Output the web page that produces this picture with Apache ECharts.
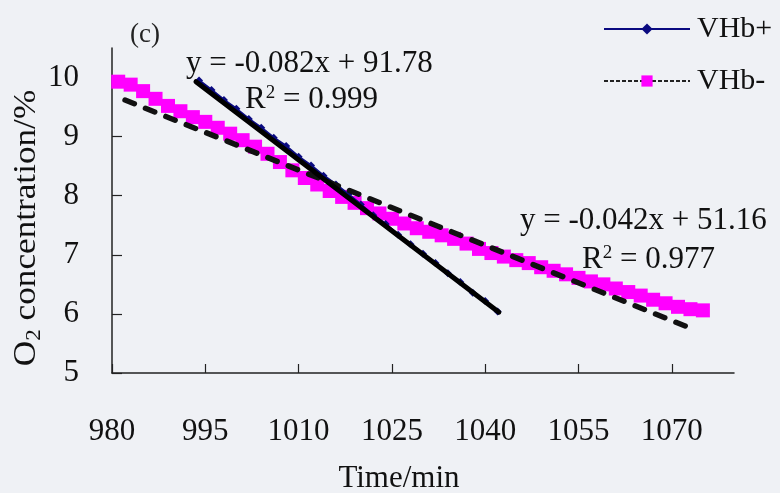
<!DOCTYPE html>
<html>
<head>
<meta charset="utf-8">
<script src="https://cdn.jsdelivr.net/npm/echarts@6/dist/echarts.min.js"></script>
<style>
html,body{margin:0;padding:0;background:#eff1f5;}
#chart{width:780px;height:493px;}
</style>
</head>
<body>
<div id="chart"></div>
<script>
// ---- data ----
var xTicks = [980, 995, 1010, 1025, 1040, 1055, 1070];
var yTicks = [5, 6, 7, 8, 9, 10];

var vhbPlusX = [994, 996, 998, 1000, 1002, 1004, 1006, 1008, 1010, 1012, 1014, 1016, 1018, 1020, 1022, 1024, 1026, 1028, 1030, 1032, 1034, 1036, 1038, 1040, 1042];
var vhbPlusY = [9.95, 9.79, 9.62, 9.47, 9.30, 9.15, 8.98, 8.84, 8.66, 8.51, 8.34, 8.19, 8.02, 7.85, 7.67, 7.52, 7.34, 7.18, 7.02, 6.86, 6.69, 6.54, 6.36, 6.22, 6.04];

var vhbMinusX = [981, 983, 985, 987, 989, 991, 993, 995, 997, 999, 1001, 1003, 1005, 1007, 1009, 1011, 1013, 1015, 1017, 1019, 1021, 1023, 1025, 1027, 1029, 1031, 1033, 1035, 1037, 1039, 1041, 1043, 1045, 1047, 1049, 1051, 1053, 1055, 1057, 1059, 1061, 1063, 1065, 1067, 1069, 1071, 1073, 1075];
var vhbMinusY = [9.93, 9.88, 9.77, 9.64, 9.52, 9.43, 9.33, 9.25, 9.15, 9.05, 8.94, 8.83, 8.71, 8.57, 8.43, 8.30, 8.19, 8.08, 7.98, 7.88, 7.79, 7.70, 7.61, 7.53, 7.45, 7.39, 7.33, 7.27, 7.19, 7.10, 7.03, 6.97, 6.91, 6.86, 6.79, 6.73, 6.67, 6.61, 6.55, 6.50, 6.43, 6.37, 6.31, 6.24, 6.18, 6.12, 6.08, 6.06];

var trendPlusX = [993.5, 1042.2];
var trendPlusY = [9.93, 6.03];
var trendMinusX = [982.1, 1073];
var trendMinusY = [9.62, 5.76];

var eqPlus = 'y = -0.082x + 91.78';
var r2Plus = '0.999';
var eqMinus = 'y = -0.042x + 51.16';
var r2Minus = '0.977';

function zip(xs, ys) { return xs.map(function (x, i) { return [x, ys[i]]; }); }

var FONT = '"Liberation Serif", "Times New Roman", serif';
var chart = echarts.init(document.getElementById('chart'));

chart.setOption({
  backgroundColor: '#eff1f5',
  animation: false,
  grid: { left: 112, right: 46, top: 48, bottom: 120, containLabel: false, outerBoundsMode: 'none' },
  legend: {
    orient: 'vertical',
    left: 598,
    top: 9,
    itemWidth: 86,
    itemHeight: 14,
    itemGap: 22,
    data: ['VHb+', 'VHb-'],
    textStyle: { fontFamily: FONT, fontSize: 30, color: '#111', padding: [0, 0, 0, 2] }
  },
  xAxis: {
    type: 'value',
    min: 980, max: 1080, interval: 15,
    name: 'Time/min',
    nameLocation: 'middle',
    nameGap: 90,
    nameTextStyle: { fontFamily: FONT, fontSize: 31, color: '#111', padding: [0, 48, 0, 0] },
    axisLine: { show: true, lineStyle: { color: '#222', width: 1.5 } },
    axisTick: { show: true, inside: true, length: 9, lineStyle: { color: '#222', width: 1.2 }, customValues: xTicks },
    axisLabel: { fontFamily: FONT, fontSize: 31, color: '#111', margin: 43, customValues: xTicks, formatter: function (v) { return String(v); } },
    splitLine: { show: false }
  },
  yAxis: {
    type: 'value',
    min: 5, max: 10.5, interval: 1,
    axisLine: { show: true, lineStyle: { color: '#222', width: 1.5 } },
    axisTick: { show: true, inside: true, length: 10, lineStyle: { color: '#222', width: 1.2 }, customValues: yTicks },
    axisLabel: { fontFamily: FONT, fontSize: 31, color: '#111', margin: 33, customValues: yTicks, formatter: function (v) { return String(v); } },
    splitLine: { show: false }
  },
  series: [
    {
      name: 'VHb-',
      type: 'line',
      data: zip(vhbMinusX, vhbMinusY),
      symbol: 'rect',
      symbolSize: 14,
      itemStyle: { color: '#ff00ff' },
      lineStyle: { color: '#222', width: 1, type: [4, 2] },
      z: 2
    },
    {
      name: 'VHb+',
      type: 'line',
      data: zip(vhbPlusX, vhbPlusY),
      symbol: 'diamond',
      symbolSize: 8,
      itemStyle: { color: '#0a0a80' },
      lineStyle: { color: '#0a0a80', width: 2.5 },
      z: 3
    },
    {
      name: 'trendMinus',
      type: 'line',
      data: zip(trendMinusX, trendMinusY),
      symbol: 'none',
      lineStyle: { color: '#111', width: 5.5, type: [10, 12], cap: 'round' },
      z: 4
    },
    {
      name: 'trendPlus',
      type: 'line',
      data: zip(trendPlusX, trendPlusY),
      symbol: 'none',
      lineStyle: { color: '#000', width: 5, cap: 'round' },
      z: 5
    }
  ],
  graphic: [
    { type: 'text', x: 27, y: 228, rotation: Math.PI / 2, scaleX: 1.1, style: {
        text: '{n|O}{s|2}{n| concentration/%}',
        align: 'center', verticalAlign: 'middle',
        rich: {
          n: { font: '32px ' + FONT, fill: '#111' },
          s: { font: '21px ' + FONT, fill: '#111', verticalAlign: 'bottom', padding: [14, 0, 0, 0] }
        } } },
    { type: 'text', left: 130, top: 21, style: { text: '(c)', font: '27px ' + FONT, fill: '#222' } },
    { type: 'text', left: 186, top: 48, style: { text: eqPlus, font: '31px ' + FONT, fill: '#111' } },
    { type: 'text', left: 245, top: 84, style: {
        text: '{n|R}{p|2}{n| = ' + r2Plus + '}',
        rich: { n: { font: '31px ' + FONT, fill: '#111' }, p: { font: '19px ' + FONT, fill: '#111', verticalAlign: 'top', padding: [0, 0, 11, 0] } } } },
    { type: 'text', left: 520, top: 205, style: { text: eqMinus, font: '31px ' + FONT, fill: '#111' } },
    { type: 'text', left: 582, top: 244, style: {
        text: '{n|R}{p|2}{n| = ' + r2Minus + '}',
        rich: { n: { font: '31px ' + FONT, fill: '#111' }, p: { font: '19px ' + FONT, fill: '#111', verticalAlign: 'top', padding: [0, 0, 11, 0] } } } }
  ]
});
</script>
</body>
</html>
